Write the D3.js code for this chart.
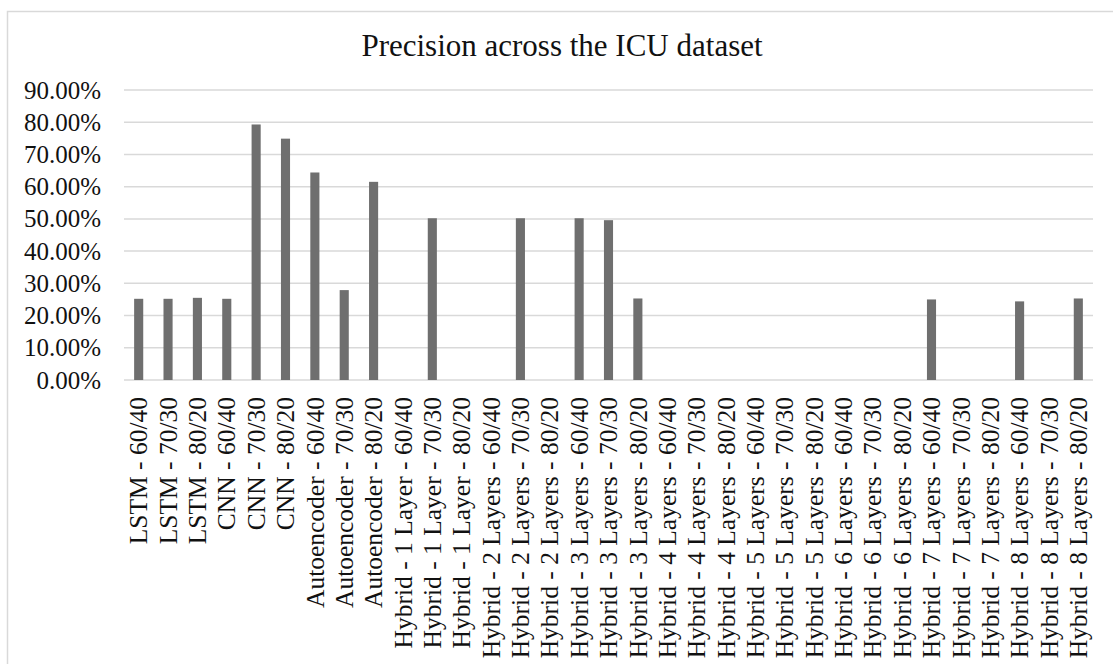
<!DOCTYPE html>
<html>
<head>
<meta charset="utf-8">
<script src="https://cdn.jsdelivr.net/npm/d3@7"></script>
<style>
  body { margin: 0; background: #fff; }
  text { font-family: "Liberation Serif", "Times New Roman", serif; fill: #111; }
</style>
</head>
<body>
<div id="chart"></div>
<script>
// categories (model - train/test split)
var categories = [
  "LSTM - 60/40", "LSTM - 70/30", "LSTM - 80/20",
  "CNN - 60/40", "CNN - 70/30", "CNN - 80/20",
  "Autoencoder - 60/40", "Autoencoder - 70/30", "Autoencoder - 80/20",
  "Hybrid - 1 Layer - 60/40", "Hybrid - 1 Layer - 70/30", "Hybrid - 1 Layer - 80/20",
  "Hybrid - 2 Layers - 60/40", "Hybrid - 2 Layers - 70/30", "Hybrid - 2 Layers - 80/20",
  "Hybrid - 3 Layers - 60/40", "Hybrid - 3 Layers - 70/30", "Hybrid - 3 Layers - 80/20",
  "Hybrid - 4 Layers - 60/40", "Hybrid - 4 Layers - 70/30", "Hybrid - 4 Layers - 80/20",
  "Hybrid - 5 Layers - 60/40", "Hybrid - 5 Layers - 70/30", "Hybrid - 5 Layers - 80/20",
  "Hybrid - 6 Layers - 60/40", "Hybrid - 6 Layers - 70/30", "Hybrid - 6 Layers - 80/20",
  "Hybrid - 7 Layers - 60/40", "Hybrid - 7 Layers - 70/30", "Hybrid - 7 Layers - 80/20",
  "Hybrid - 8 Layers - 60/40", "Hybrid - 8 Layers - 70/30", "Hybrid - 8 Layers - 80/20"
];

// precision, in percent
var precision = [
  25.2, 25.2, 25.5,
  25.2, 79.3, 74.9,
  64.4, 27.9, 61.5,
  0, 50.2, 0,
  0, 50.2, 0,
  50.2, 49.6, 25.3,
  0, 0, 0,
  0, 0, 0,
  0, 0, 0,
  25.0, 0, 0,
  24.4, 0, 25.3
];

var yTicks = [0, 0.1, 0.2, 0.3, 0.4, 0.5, 0.6, 0.7, 0.8, 0.9];

var title = "Precision across the ICU dataset";

var width = 1113,
    height = 664;

var svg = d3.select("#chart").append("svg")
    .attr("width", width)
    .attr("height", height);

// chart frame (runs off right and bottom edges)
svg.append("rect")
    .attr("x", 7.5)
    .attr("y", 11.5)
    .attr("width", width + 20)
    .attr("height", height + 20)
    .attr("fill", "none")
    .attr("stroke", "#d9d9d9")
    .attr("stroke-width", 1.5);

var x = d3.scaleBand()
    .domain(categories)
    .range([124, 1093])
    .paddingInner(0.69)
    .paddingOuter(0.345);

var y = d3.scaleLinear()
    .domain([0, 0.9])
    .range([380, 90]);

// grid
svg.append("g")
    .selectAll("line")
    .data(yTicks)
    .enter().append("line")
    .attr("x1", 124)
    .attr("x2", 1093)
    .attr("y1", function(d) { return y(d); })
    .attr("y2", function(d) { return y(d); })
    .attr("stroke", "#d9d9d9")
    .attr("stroke-width", 1.5);

// y labels
var fmt = d3.format(".2%");
svg.append("g")
    .selectAll("text")
    .data(yTicks)
    .enter().append("text")
    .attr("x", 101)
    .attr("y", function(d) { return y(d); })
    .attr("text-anchor", "end")
    .attr("dy", "0.34em")
    .style("font-size", "25px")
    .text(function(d) { return fmt(d); });

// bars
svg.append("g")
    .selectAll("rect")
    .data(categories)
    .enter().append("rect")
    .attr("x", function(d) { return x(d); })
    .attr("width", x.bandwidth())
    .attr("y", function(d, i) { return y(precision[i] / 100); })
    .attr("height", function(d, i) { return y(0) - y(precision[i] / 100); })
    .attr("fill", "#6f6f6f");

// category labels
svg.append("g")
    .selectAll("text")
    .data(categories)
    .enter().append("text")
    .attr("transform", function(d) {
      return "translate(" + (x(d) + x.bandwidth() / 2) + ",397) rotate(-90)";
    })
    .attr("text-anchor", "end")
    .attr("dy", "0.34em")
    .style("font-size", "25.5px")
    .text(function(d) { return d; });

// title
svg.append("text")
    .attr("x", 562)
    .attr("y", 56)
    .attr("text-anchor", "middle")
    .style("font-size", "31px")
    .text(title);
</script>
</body>
</html>
